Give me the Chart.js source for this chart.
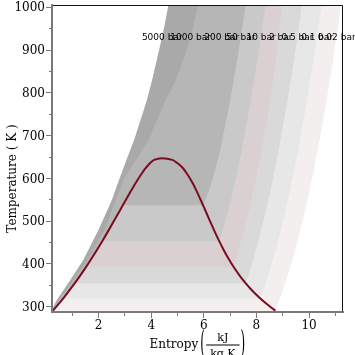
<!DOCTYPE html>
<html>
<head>
<meta charset="utf-8">
<script src="https://cdn.jsdelivr.net/npm/chart.js@4.4.1/dist/chart.umd.min.js"></script>
<style>
  html, body { margin: 0; padding: 0; background: #ffffff; }
  #wrap { width: 355px; height: 355px; }
</style>
</head>
<body>
<div id="wrap"><canvas id="tsChart" width="355" height="355"></canvas></div>
<script>
// Saturation dome of water: T (K), entropy of liquid and vapour (kJ/kg K)
const satT = [290.65, 293.15, 303.15, 313.15, 323.15, 333.15, 343.15, 353.15, 363.15, 373.15,
    393.15, 413.15, 433.15, 453.15, 473.15, 493.15, 513.15, 533.15, 553.15, 573.15,
    593.15, 613.15, 623.15, 633.15, 638.15, 643.15, 647.1];
const satSf = [0.2606, 0.2966, 0.4369, 0.5725, 0.7038, 0.8312, 0.9549, 1.0753, 1.1925, 1.3069,
    1.5276, 1.7391, 1.9427, 2.1396, 2.3305, 2.5182, 2.7020, 2.8838, 3.0668, 3.2548,
    3.4494, 3.6601, 3.7784, 3.9167, 4.0020, 4.1112, 4.4070];
const satSg = [8.7237, 8.6672, 8.4533, 8.2570, 8.0763, 7.9096, 7.7553, 7.6122, 7.4791, 7.3549,
    7.1296, 6.9299, 6.7502, 6.5857, 6.4323, 6.2861, 6.1423, 5.9989, 5.8541, 5.7049,
    5.5372, 5.3356, 5.2177, 5.0536, 4.9425, 4.8012, 4.4070];

// Isobars
const isobarNames = ["5000 bar", "1000 bar", "200 bar", "50 bar", "10 bar", "2 bar", "0.5 bar", "0.1 bar", "0.02 bar"];
const tBoil = [null, null, 638.9, 537.09, 453.03, 393.36, 354.47, 318.96, 290.65];
const sLiqBoil = [null, null, 4.0139, 2.9202, 2.1387, 1.5301, 1.0910, 0.6493, 0.2606];
const sVapBoil = [null, null, 4.9269, 5.9734, 6.5865, 7.1271, 7.5939, 8.1502, 8.7237];

// supercritical isobars
const tDense = [285, 316, 362, 409, 480, 550, 597, 645, 690, 784, 831, 900, 955, 1010];
const s5000 = [0.15, 0.42, 0.92, 1.42, 2.00, 2.51, 2.78, 3.07, 3.35, 3.84, 4.04, 4.30, 4.50, 4.67];
const s1000 = [0.20, 0.48, 1.05, 1.57, 2.24, 2.66, 2.95, 3.44, 3.90, 4.55, 4.95, 5.35, 5.60, 5.80];

// superheated vapour on a shared temperature grid
const tVap = [323.15, 373.15, 423.15, 473.15, 523.15, 573.15, 623.15, 673.15, 773.15, 873.15, 973.15, 1010];
const sVap200 = [null, null, null, null, null, null, null, 5.554, 6.140, 6.505, 6.799, 6.90];
const sVap50 = [null, null, null, null, null, 6.208, 6.449, 6.646, 6.976, 7.259, 7.512, 7.60];
const sVap10 = [null, null, null, 6.694, 6.925, 7.123, 7.301, 7.465, 7.762, 8.029, 8.273, 8.36];
const sVap2 = [null, null, 7.280, 7.507, 7.709, 7.893, 8.061, 8.222, 8.500, 8.730, 8.920, 8.98];
const sVap05 = [null, 7.695, 7.940, 8.158, 8.356, 8.537, 8.705, 8.864, 9.155, 9.418, 9.660, 9.74];
const sVap01 = [8.175, 8.448, 8.688, 8.904, 9.100, 9.281, 9.449, 9.608, 9.898, 10.161, 10.403, 10.49];
const sVap002 = [8.918, 9.191, 9.431, 9.647, 9.843, 10.024, 10.191, 10.350, 10.641, 10.904, 11.146, 11.23];

// where the isobar names sit
const labelT = 930;
const labelS = [4.42, 5.50, 6.68, 7.41, 8.18, 8.92, 9.56, 10.31, 11.05];

// x ticks / y ticks
const xTicks = [2, 4, 6, 8, 10];
const yTicks = [300, 400, 500, 600, 700, 800, 900, 1000];

const denseRows = [s5000, s1000];
const vapRows = [null, null, sVap200, sVap50, sVap10, sVap2, sVap05, sVap01, sVap002];
const bandColors = ["#a9a9a9", "#b6b6b6", "#b6b6b6", "#c9c9c9", "#dbd0d1", "#d9d9d9", "#e7e7e7", "#f3efef", "#ffffff"];

const S_EDGE = 12;
const T_LOW = 280;
const T_HIGH = 1010;

// region to the right of an isobar, closed round the far edge
function isobarOutline(i) {
    const pts = [{ x: S_EDGE, y: T_LOW }];
    if (tBoil[i] === null) {
        denseRows[i].forEach((s, k) => pts.push({ x: s, y: tDense[k] }));
    } else {
        pts.push({ x: satSf[0], y: T_LOW });
        satT.forEach((t, k) => {
            if (t < tBoil[i]) pts.push({ x: satSf[k], y: t });
        });
        pts.push({ x: sLiqBoil[i], y: tBoil[i] });
        pts.push({ x: sVapBoil[i], y: tBoil[i] });
        vapRows[i].forEach((s, k) => {
            if (s !== null) pts.push({ x: s, y: tVap[k] });
        });
    }
    pts.push({ x: S_EDGE, y: T_HIGH });
    return pts;
}

const domePoints = satSf.map((s, k) => ({ x: s, y: satT[k] }));
for (let k = satSg.length - 2; k >= 0; k--) {
    domePoints.push({ x: satSg[k], y: satT[k] });
}

const datasets = [{
    label: "saturation",
    data: domePoints,
    showLine: true,
    borderColor: "#7d0a1e",
    borderWidth: 2,
    pointRadius: 0,
    fill: false,
    cubicInterpolationMode: "monotone",
}];
// lowest pressure first so the 5000 bar band is painted underneath
for (let i = isobarNames.length - 1; i >= 0; i--) {
    datasets.push({
        label: isobarNames[i],
        data: isobarOutline(i),
        showLine: true,
        borderColor: "rgba(0,0,0,0)",
        borderWidth: 0,
        backgroundColor: bandColors[i],
        pointRadius: 0,
        fill: "shape",
        tension: 0,
    });
}

const serif = '"DejaVu Serif", serif';

const overlay = {
    id: "overlay",
    afterDatasetsDraw(chart) {
        const { ctx, chartArea: a, scales } = chart;
        ctx.save();
        // top and right frame
        ctx.strokeStyle = "#111";
        ctx.lineWidth = 1;
        ctx.beginPath();
        ctx.moveTo(a.left, a.top + 0.5);
        ctx.lineTo(a.right - 0.5, a.top + 0.5);
        ctx.lineTo(a.right - 0.5, a.bottom);
        ctx.stroke();
        // isobar names
        ctx.fillStyle = "#000";
        ctx.font = '9px "DejaVu Sans", sans-serif';
        ctx.textAlign = "center";
        ctx.textBaseline = "middle";
        isobarNames.forEach((name, i) => {
            ctx.fillText(name, scales.x.getPixelForValue(labelS[i]), scales.y.getPixelForValue(labelT));
        });
        ctx.restore();
    },
    afterDraw(chart) {
        const { ctx, chartArea: a } = chart;
        ctx.save();
        ctx.fillStyle = "#000";
        ctx.textBaseline = "alphabetic";

        // y title, rotated
        ctx.save();
        ctx.translate(16, (a.top + a.bottom) / 2 + 20);
        ctx.rotate(-Math.PI / 2);
        ctx.font = "12px " + serif;
        ctx.textAlign = "center";
        ctx.fillText("Temperature ( K )", 0, 0);
        ctx.restore();

        // x title with the unit as a fraction
        ctx.font = "12px " + serif;
        const wWord = ctx.measureText("Entropy").width;
        ctx.font = "11px " + serif;
        const wFrac = Math.max(ctx.measureText("kJ").width, ctx.measureText("kg K").width) + 8;
        const total = wWord + 2 + 6 + wFrac + 6;
        let x = (a.left + a.right) / 2 - total / 2;
        const mid = 344.5;
        ctx.font = "12px " + serif;
        ctx.textAlign = "left";
        ctx.fillText("Entropy", x, 347.5);
        x += wWord + 2;
        const paren = (ch, px) => {
            ctx.save();
            ctx.translate(px, mid);
            ctx.scale(1, 2.6);
            ctx.font = "12px " + serif;
            ctx.textAlign = "left";
            ctx.textBaseline = "middle";
            ctx.fillText(ch, 0, 0);
            ctx.restore();
        };
        paren("(", x);
        x += 6;
        ctx.fillRect(x, mid, wFrac, 1);
        ctx.font = "11px " + serif;
        ctx.textAlign = "center";
        ctx.fillText("kJ", x + wFrac / 2, mid - 4);
        ctx.fillText("kg K", x + wFrac / 2, mid + 12);
        x += wFrac + 1;
        paren(")", x);
        ctx.restore();
    },
};

const isMinor = (ctx, major) => ctx.tick && Math.abs(ctx.tick.value % major) > 1e-6;

new Chart(document.getElementById("tsChart"), {
    type: "scatter",
    data: { datasets: datasets },
    options: {
        responsive: false,
        animation: false,
        layout: { padding: { left: 0, right: 12, top: 5, bottom: 0 } },
        plugins: {
            legend: { display: false },
            tooltip: { enabled: false },
        },
        scales: {
            x: {
                type: "linear",
                min: 0.23,
                max: 11.29,
                border: { display: true, color: "#7a7a7a", width: 2, z: 1 },
                grid: {
                    drawOnChartArea: false,
                    drawTicks: true,
                    tickLength: 6,
                    tickColor: "#7a7a7a",
                    tickWidth: 1,
                    tickBorderDash: (c) => (isMinor(c, 2) ? [3, 100] : []),
                },
                ticks: {
                    stepSize: 1,
                    includeBounds: false,
                    autoSkip: false,
                    maxRotation: 0,
                    padding: 1,
                    color: "#000",
                    font: { family: serif, size: 12 },
                    callback: (v) => (xTicks.includes(v) ? String(v) : ""),
                },
                afterFit: (s) => {
                    s.height = 43;
                    s.paddingLeft = 0;
                    s.paddingRight = 0;
                },
            },
            y: {
                type: "linear",
                min: 287.5,
                max: 1005.5,
                border: { display: true, color: "#7a7a7a", width: 2, z: 1 },
                grid: {
                    drawOnChartArea: false,
                    drawTicks: true,
                    tickLength: 6,
                    tickColor: "#7a7a7a",
                    tickWidth: 1,
                    tickBorderDash: (c) => (isMinor(c, 100) ? [0, 3, 3, 100] : []),
                },
                ticks: {
                    stepSize: 50,
                    includeBounds: false,
                    autoSkip: false,
                    padding: 1,
                    labelOffset: 1,
                    color: "#000",
                    font: { family: serif, size: 12 },
                    callback: (v) => (yTicks.includes(v) ? String(v) : ""),
                },
                afterFit: (s) => {
                    s.width = 52;
                    s.paddingTop = 0;
                    s.paddingBottom = 0;
                },
            },
        },
    },
    plugins: [overlay],
});
</script>
</body>
</html>
